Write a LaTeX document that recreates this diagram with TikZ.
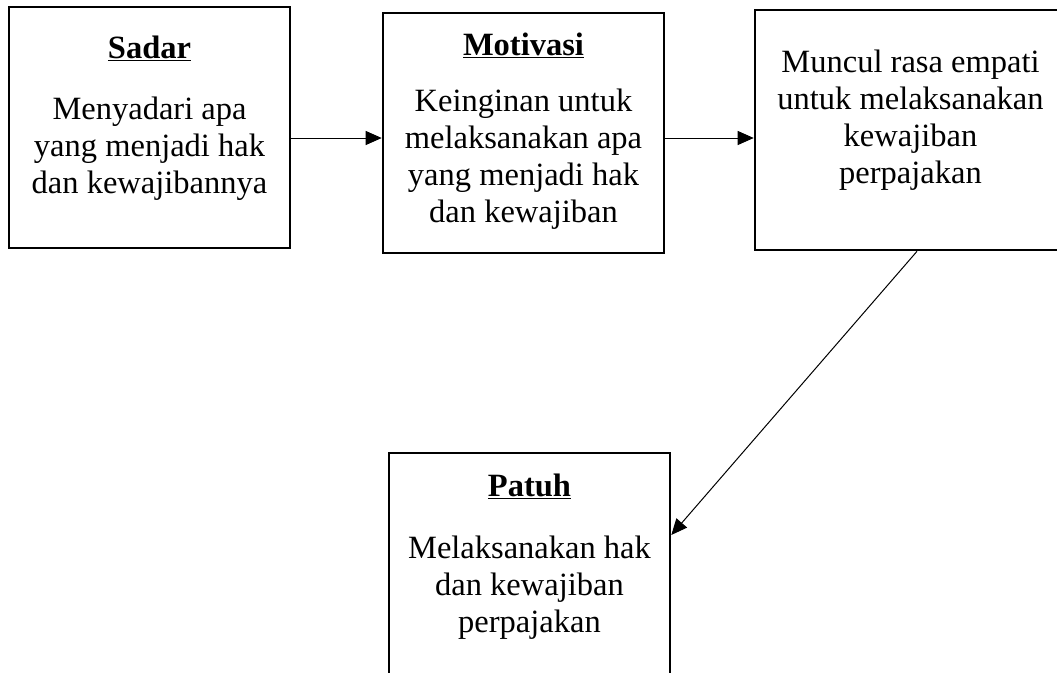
\documentclass[tikz,border=0pt]{standalone}
\usepackage{fontspec}
\setmainfont{Liberation Serif}
\usetikzlibrary{arrows.meta}
\begin{document}
\begin{tikzpicture}[x=1pt,y=-1pt,
  box/.style={draw, line width=2.6pt, inner sep=0pt},
  txt/.style={align=center, font=\fontsize{32.5}{37}\selectfont, inner sep=0pt},
  ttl/.style={font=\fontsize{32.5}{37}\selectfont\bfseries, inner sep=0pt, anchor=base},
  arr/.style={line width=1pt, -{Triangle[length=16pt,width=14pt]}}]
\useasboundingbox (0,0) rectangle (1057,672);
\clip (0,0) rectangle (1057,672);
% boxes
\node[box, minimum width=281pt, minimum height=241pt] (sadar) at (149.5,127.5) {};
\node[box, minimum width=281pt, minimum height=240pt] (motiv) at (523.5,133) {};
\node[box, minimum width=312pt, minimum height=240pt] (muncul) at (911,130) {};
\node[box, minimum width=281pt, minimum height=237pt] (patuh) at (529.5,571.5) {};
% texts
\node[ttl] (sadarT) at (149.5,58.5) {\underline{Sadar}};
\node[txt] (sadarB) at (149.5,149) {Menyadari apa\\yang menjadi hak\\dan kewajibannya};
\node[ttl] (motivT) at (523.5,55.5) {\underline{Motivasi}};
\node[txt] (motivB) at (523.5,159) {Keinginan untuk\\melaksanakan apa\\yang menjadi hak\\dan kewajiban};
\node[txt] (munculB) at (910.5,120) {Muncul rasa empati\\untuk melaksanakan\\kewajiban\\perpajakan};
\node[ttl] (patuhT) at (529.5,496) {\underline{Patuh}};
\node[txt] (patuhB) at (529.5,588) {Melaksanakan hak\\dan kewajiban\\perpajakan};
% connectors
\coordinate (r1) at (0,138);
\coordinate (r2) at (0,535);
\draw[arr] (sadar.east |- r1) -- (motiv.west |- r1);
\draw[arr] (motiv.east |- r1) -- (muncul.west |- r1);
\draw[arr] ([xshift=6pt]muncul.south) -- (patuh.east |- r2);
\end{tikzpicture}
\end{document}
